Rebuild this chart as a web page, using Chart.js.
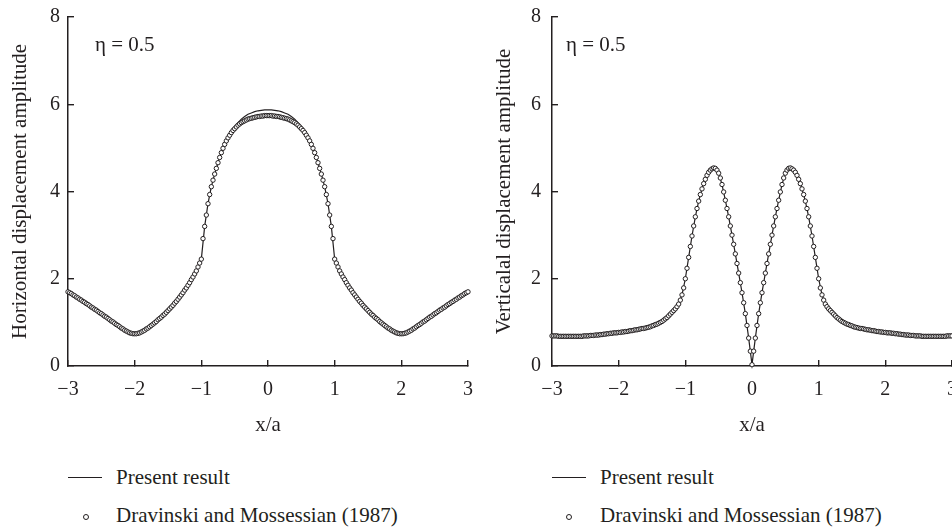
<!DOCTYPE html>
<html>
<head>
<meta charset="utf-8">
<script src="https://cdn.jsdelivr.net/npm/chart.js@4.4.1/dist/chart.umd.min.js"></script>
<style>
  body { margin: 0; width: 952px; height: 530px; overflow: hidden; background: #fff; position: relative;
         font-family: 'Liberation Serif', 'Times New Roman', serif; color: #231f20; }
  .panel { position: absolute; top: 0; width: 476px; height: 440px; overflow: hidden; }
  .panel canvas { position: absolute; left: 0; top: 0; }
  .key { position: absolute; font-size: 21px; line-height: 24px; white-space: nowrap; }
  .dash { position: absolute; height: 1.3px; width: 34px; background: #231f20; }
  .ring { position: absolute; width: 4px; height: 4px; border: 1px solid #231f20; border-radius: 50%; background: #fff; }
</style>
</head>
<body>

<div class="panel" style="left:0"><canvas id="horiz" width="476" height="440"></canvas></div>
<div class="panel" style="left:476px"><canvas id="vert" width="490" height="440"></canvas></div>

<div class="dash" style="left:68px; top:477px"></div>
<div class="key" style="left:116px; top:465px">Present result</div>
<div class="ring" style="left:83px; top:514px"></div>
<div class="key" style="left:116px; top:503px">Dravinski and Mossessian (1987)</div>

<div class="dash" style="left:552px; top:477px"></div>
<div class="key" style="left:600px; top:465px">Present result</div>
<div class="ring" style="left:566px; top:514px"></div>
<div class="key" style="left:600px; top:503px">Dravinski and Mossessian (1987)</div>

<script>
// x/a sampling: reference points every 0.025, present result every 0.05, from -3 to 3
const xStart = -3;
const refStep = 0.025;
const lineStep = 0.05;

const xTicks = [-3, -2, -1, 0, 1, 2, 3];
const yTicks = [0, 2, 4, 6, 8];

// horizontal displacement amplitude, Dravinski and Mossessian (1987)
const horizRef = [
  1.70, 1.68, 1.66, 1.63, 1.61, 1.58, 1.56, 1.53, 1.51, 1.48,
  1.46, 1.43, 1.41, 1.38, 1.35, 1.33, 1.30, 1.28, 1.25, 1.22,
  1.20, 1.17, 1.14, 1.12, 1.09, 1.06, 1.03, 1.01, 0.98, 0.95,
  0.93, 0.90, 0.87, 0.85, 0.82, 0.80, 0.78, 0.76, 0.75, 0.74,
  0.74, 0.74, 0.75, 0.76, 0.78, 0.80, 0.82, 0.85, 0.87, 0.90,
  0.93, 0.96, 0.99, 1.02, 1.06, 1.09, 1.12, 1.16, 1.19, 1.23,
  1.27, 1.31, 1.35, 1.39, 1.44, 1.48, 1.53, 1.58, 1.63, 1.68,
  1.74, 1.79, 1.85, 1.91, 1.98, 2.04, 2.11, 2.18, 2.27, 2.36,
  2.45, 2.92, 3.20, 3.46, 3.72, 3.93, 4.11, 4.26, 4.40, 4.53,
  4.66, 4.78, 4.89, 4.99, 5.08, 5.16, 5.23, 5.29, 5.35, 5.40,
  5.44, 5.48, 5.52, 5.55, 5.58, 5.60, 5.62, 5.64, 5.66, 5.67,
  5.68, 5.69, 5.70, 5.71, 5.72, 5.72, 5.73, 5.73, 5.74, 5.74,
  5.74,
  5.74, 5.74, 5.73, 5.73, 5.72, 5.72, 5.71, 5.70, 5.69, 5.68,
  5.67, 5.66, 5.64, 5.62, 5.60, 5.58, 5.55, 5.52, 5.48, 5.44,
  5.40, 5.35, 5.29, 5.23, 5.16, 5.08, 4.99, 4.89, 4.78, 4.66,
  4.53, 4.40, 4.26, 4.11, 3.93, 3.72, 3.46, 3.20, 2.92, 2.45,
  2.36, 2.27, 2.18, 2.11, 2.04, 1.98, 1.91, 1.85, 1.79, 1.74,
  1.68, 1.63, 1.58, 1.53, 1.48, 1.44, 1.39, 1.35, 1.31, 1.27,
  1.23, 1.19, 1.16, 1.12, 1.09, 1.06, 1.02, 0.99, 0.96, 0.93,
  0.90, 0.87, 0.85, 0.82, 0.80, 0.78, 0.76, 0.75, 0.74, 0.74,
  0.74, 0.75, 0.76, 0.78, 0.80, 0.82, 0.85, 0.87, 0.90, 0.93,
  0.95, 0.98, 1.01, 1.03, 1.06, 1.09, 1.12, 1.14, 1.17, 1.20,
  1.22, 1.25, 1.28, 1.30, 1.33, 1.35, 1.38, 1.41, 1.43, 1.46,
  1.48, 1.51, 1.53, 1.56, 1.58, 1.61, 1.63, 1.66, 1.68, 1.70
];

// horizontal displacement amplitude, present result
const horizLine = [
  1.70, 1.66, 1.61, 1.56, 1.51, 1.46, 1.41, 1.35, 1.30, 1.25,
  1.20, 1.14, 1.09, 1.03, 0.98, 0.93, 0.87, 0.82, 0.78, 0.75,
  0.74, 0.75, 0.78, 0.82, 0.87, 0.93, 0.99, 1.06, 1.12, 1.19,
  1.27, 1.35, 1.44, 1.53, 1.63, 1.74, 1.85, 1.98, 2.11, 2.27,
  2.45, 3.20, 3.72, 4.11, 4.40, 4.66, 4.90, 5.10, 5.25, 5.37,
  5.49, 5.58, 5.66, 5.72, 5.77, 5.80, 5.83, 5.85, 5.86, 5.87,
  5.87,
  5.87, 5.86, 5.85, 5.83, 5.80, 5.77, 5.72, 5.66, 5.58, 5.49,
  5.37, 5.25, 5.10, 4.90, 4.66, 4.40, 4.11, 3.72, 3.20, 2.45,
  2.27, 2.11, 1.98, 1.85, 1.74, 1.63, 1.53, 1.44, 1.35, 1.27,
  1.19, 1.12, 1.06, 0.99, 0.93, 0.87, 0.82, 0.78, 0.75, 0.74,
  0.75, 0.78, 0.82, 0.87, 0.93, 0.98, 1.03, 1.09, 1.14, 1.20,
  1.25, 1.30, 1.35, 1.41, 1.46, 1.51, 1.56, 1.61, 1.66, 1.70
];

// vertical displacement amplitude, Dravinski and Mossessian (1987)
const vertRef = [
  0.69, 0.69, 0.69, 0.69, 0.68, 0.68, 0.68, 0.68, 0.68, 0.68,
  0.68, 0.68, 0.68, 0.68, 0.68, 0.68, 0.68, 0.68, 0.68, 0.69,
  0.69, 0.69, 0.69, 0.70, 0.70, 0.70, 0.71, 0.71, 0.71, 0.72,
  0.72, 0.73, 0.73, 0.74, 0.74, 0.75, 0.75, 0.76, 0.76, 0.76,
  0.77, 0.77, 0.78, 0.78, 0.79, 0.79, 0.80, 0.81, 0.81, 0.82,
  0.83, 0.83, 0.84, 0.85, 0.86, 0.86, 0.87, 0.88, 0.89, 0.90,
  0.92, 0.93, 0.95, 0.96, 0.98, 1.00, 1.02, 1.05, 1.08, 1.11,
  1.15, 1.19, 1.23, 1.27, 1.31, 1.36, 1.42, 1.51, 1.63, 1.79,
  2.00, 2.24, 2.49, 2.74, 2.98, 3.21, 3.42, 3.61, 3.78, 3.93,
  4.06, 4.18, 4.28, 4.37, 4.44, 4.49, 4.52, 4.54, 4.53, 4.49,
  4.42, 4.31, 4.16, 3.99, 3.80, 3.61, 3.42, 3.21, 3.00, 2.79,
  2.57, 2.35, 2.13, 1.91, 1.68, 1.45, 1.20, 0.93, 0.64, 0.34,
  0.03,
  0.34, 0.64, 0.93, 1.20, 1.45, 1.68, 1.91, 2.13, 2.35, 2.57,
  2.79, 3.00, 3.21, 3.42, 3.61, 3.80, 3.99, 4.16, 4.31, 4.42,
  4.49, 4.53, 4.54, 4.52, 4.49, 4.44, 4.37, 4.28, 4.18, 4.06,
  3.93, 3.78, 3.61, 3.42, 3.21, 2.98, 2.74, 2.49, 2.24, 2.00,
  1.79, 1.63, 1.51, 1.42, 1.36, 1.31, 1.27, 1.23, 1.19, 1.15,
  1.11, 1.08, 1.05, 1.02, 1.00, 0.98, 0.96, 0.95, 0.93, 0.92,
  0.90, 0.89, 0.88, 0.87, 0.86, 0.86, 0.85, 0.84, 0.83, 0.83,
  0.82, 0.81, 0.81, 0.80, 0.79, 0.79, 0.78, 0.78, 0.77, 0.77,
  0.76, 0.76, 0.76, 0.75, 0.75, 0.74, 0.74, 0.73, 0.73, 0.72,
  0.72, 0.71, 0.71, 0.71, 0.70, 0.70, 0.70, 0.69, 0.69, 0.69,
  0.69, 0.68, 0.68, 0.68, 0.68, 0.68, 0.68, 0.68, 0.68, 0.68,
  0.68, 0.68, 0.68, 0.68, 0.68, 0.68, 0.69, 0.69, 0.69, 0.69
];

// vertical displacement amplitude, present result
const vertLine = [
  0.69, 0.69, 0.68, 0.68, 0.68, 0.68, 0.68, 0.68, 0.68, 0.68,
  0.69, 0.69, 0.70, 0.71, 0.71, 0.72, 0.73, 0.74, 0.75, 0.76,
  0.77, 0.78, 0.79, 0.80, 0.81, 0.83, 0.84, 0.86, 0.87, 0.89,
  0.92, 0.95, 0.98, 1.02, 1.08, 1.15, 1.23, 1.31, 1.42, 1.63,
  2.00, 2.49, 2.98, 3.42, 3.78, 4.06, 4.28, 4.44, 4.53, 4.55,
  4.43, 4.16, 3.80, 3.42, 3.00, 2.57, 2.13, 1.68, 1.20, 0.64,
  0.03,
  0.64, 1.20, 1.68, 2.13, 2.57, 3.00, 3.42, 3.80, 4.16, 4.43,
  4.55, 4.53, 4.44, 4.28, 4.06, 3.78, 3.42, 2.98, 2.49, 2.00,
  1.63, 1.42, 1.31, 1.23, 1.15, 1.08, 1.02, 0.98, 0.95, 0.92,
  0.89, 0.87, 0.86, 0.84, 0.83, 0.81, 0.80, 0.79, 0.78, 0.77,
  0.76, 0.75, 0.74, 0.73, 0.72, 0.71, 0.71, 0.70, 0.69, 0.69,
  0.68, 0.68, 0.68, 0.68, 0.68, 0.68, 0.68, 0.68, 0.69, 0.69
];

const ink = '#231f20';
const serif = "'Liberation Serif', 'Times New Roman', serif";

Chart.defaults.font.family = serif;
Chart.defaults.font.size = 20;
Chart.defaults.color = ink;

function toPoints(values, step) {
  return values.map((y, i) => ({ x: +(xStart + i * step).toFixed(3), y }));
}

const minus = v => (v < 0 ? '\u2212' + Math.abs(v) : String(v));

// small "η = 0.5" note in the upper left of the plot area
const etaNote = {
  id: 'etaNote',
  afterDraw(chart, args, opts) {
    const { ctx, chartArea } = chart;
    ctx.save();
    ctx.font = '21px ' + serif;
    ctx.fillStyle = ink;
    ctx.textBaseline = 'middle';
    ctx.fillText('\u03b7 = 0.5', chartArea.left + opts.dx, chartArea.top + opts.dy);
    ctx.restore();
  }
};

function drawPanel(id, refVals, lineVals, yTitle, cfg) {
  new Chart(document.getElementById(id), {
    type: 'scatter',
    data: {
      datasets: [
        {
          label: 'Dravinski and Mossessian (1987)',
          data: toPoints(refVals, refStep),
          showLine: false,
          pointRadius: 2.2,
          pointBorderWidth: 1,
          pointBorderColor: ink,
          pointBackgroundColor: '#fff',
          clip: 6,
          order: 0
        },
        {
          label: 'Present result',
          data: toPoints(lineVals, lineStep),
          showLine: true,
          borderColor: ink,
          borderWidth: 1.2,
          pointRadius: 0,
          tension: 0,
          clip: 6,
          order: 1
        }
      ]
    },
    options: {
      responsive: false,
      devicePixelRatio: 1,
      animation: false,
      events: [],
      layout: { padding: { left: 0, right: cfg.padRight, top: 17, bottom: 0 } },
      plugins: {
        legend: { display: false },
        tooltip: { enabled: false },
        etaNote: { dx: cfg.etaDx, dy: 28 }
      },
      scales: {
        x: {
          type: 'linear',
          min: xTicks[0],
          max: xTicks[xTicks.length - 1],
          afterBuildTicks: s => { s.ticks = xTicks.map(v => ({ value: v })); },
          // fixed axis band; label overhang is left to the layout padding
          afterFit: s => { s.height = 74; s.paddingLeft = 0; s.paddingRight = 0; },
          ticks: { padding: 18, callback: minus, maxRotation: 0 },
          grid: { drawOnChartArea: false, tickLength: -6, color: ink, lineWidth: 1.4 },
          border: { color: ink, width: 1.5 },
          title: { display: true, text: 'x/a', font: { size: 21 }, padding: { top: 0, bottom: 2 } }
        },
        y: {
          min: yTicks[0],
          max: yTicks[yTicks.length - 1],
          afterBuildTicks: s => { s.ticks = yTicks.map(v => ({ value: v })); },
          afterFit: s => { s.width = cfg.axisLeft; s.paddingTop = 0; s.paddingBottom = 0; },
          ticks: { padding: cfg.yPad },
          grid: { drawOnChartArea: false, tickLength: -6, color: ink, lineWidth: 1.4 },
          border: { color: ink, width: 1.5 },
          title: { display: true, text: yTitle, font: { size: 21 }, padding: { top: cfg.titlePad, bottom: 0 } }
        }
      }
    },
    plugins: [etaNote]
  });
}

drawPanel('horiz', horizRef, horizLine, 'Horizontal displacement amplitude',
  { axisLeft: 68, padRight: 8, yPad: 14, titlePad: 8, etaDx: 27 });
drawPanel('vert', vertRef, vertLine, 'Verticalal displacement amplitude',
  { axisLeft: 76, padRight: 14, yPad: 17, titlePad: 16, etaDx: 14 });
</script>
</body>
</html>
